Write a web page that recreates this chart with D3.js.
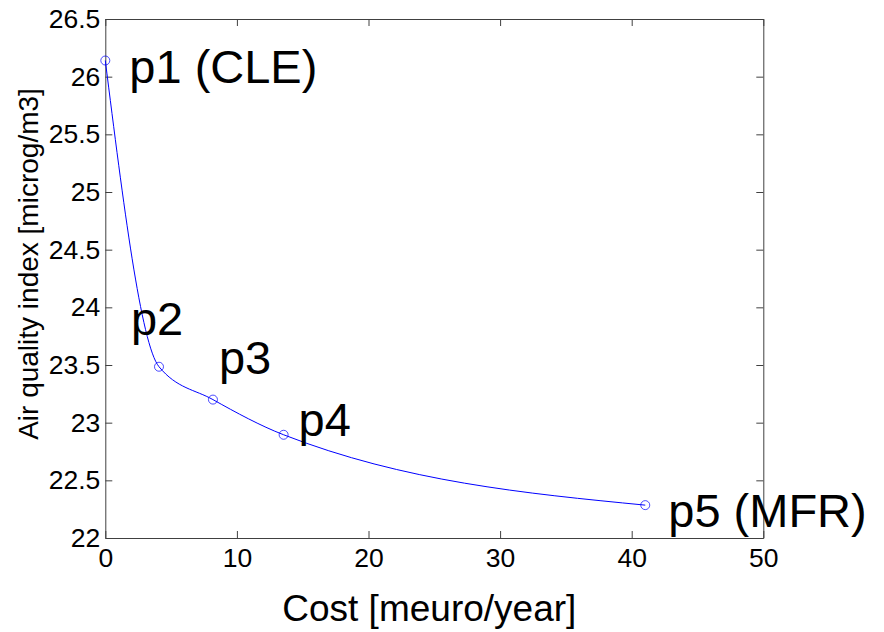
<!DOCTYPE html>
<html>
<head>
<meta charset="utf-8">
<script src="https://cdn.jsdelivr.net/npm/d3@7"></script>
<style>
  html, body { margin: 0; padding: 0; background: #fff; }
  svg { display: block; font-family: Arial, "Liberation Sans", sans-serif; }
</style>
</head>
<body>
<svg id="chart" width="884" height="632"></svg>
<script>
// ---- data ----
const costs = [0, 4.08, 8.18, 13.55, 41.03];          // meuro/year
const aqi   = [26.14, 23.485, 23.20, 22.895, 22.285];  // microg/m3
const pointNames = ["p1 (CLE)", "p2", "p3", "p4", "p5 (MFR)"];
const xTicks = [0, 10, 20, 30, 40, 50];
const yTicks = [22, 22.5, 23, 23.5, 24, 24.5, 25, 25.5, 26, 26.5];
const xTitle = "Cost [meuro/year]";
const yTitle = "Air quality index [microg/m3]";

// ---- layout ----
const L = 105.3, R = 763.3, T = 19, B = 538;
const labelOffsets = [[24, 22], [-28, -32], [6, -26], [15, 1], [23, 22]];
const axisColor = "#404040";
const lineColor = "#0000ff";

const svg = d3.select("#chart");
svg.append("rect").attr("width", 884).attr("height", 632).attr("fill", "#fff");

const x = d3.scaleLinear().domain([0, 50]).range([L, R]);
const y = d3.scaleLinear().domain([22, 26.5]).range([B, T]);

function styleAxis(g, showLabels) {
  g.selectAll("path.domain").attr("stroke", axisColor).attr("stroke-width", 1);
  g.selectAll(".tick line").attr("stroke", axisColor).attr("stroke-width", 1);
  g.selectAll(".tick text")
    .attr("fill", "#000")
    .style("font-size", "26.5px")
    .style("font-family", 'Arial, "Liberation Sans", sans-serif');
  if (!showLabels) g.selectAll(".tick text").remove();
}

// bottom axis
svg.append("g").attr("transform", `translate(0,${B})`)
  .call(d3.axisBottom(x).tickValues(xTicks).tickFormat(d3.format("d"))
        .tickSizeInner(-7).tickSizeOuter(0).tickPadding(10))
  .call(g => styleAxis(g, true));
// top axis (mirror)
svg.append("g").attr("transform", `translate(0,${T})`)
  .call(d3.axisTop(x).tickValues(xTicks).tickSizeInner(-7).tickSizeOuter(0))
  .call(g => styleAxis(g, false));
// left axis
svg.append("g").attr("transform", `translate(${L},0)`)
  .call(d3.axisLeft(y).tickValues(yTicks).tickFormat(d => String(d))
        .tickSizeInner(-7).tickSizeOuter(0).tickPadding(5))
  .call(g => styleAxis(g, true));
// right axis (mirror)
svg.append("g").attr("transform", `translate(${R},0)`)
  .call(d3.axisRight(y).tickValues(yTicks).tickSizeInner(-7).tickSizeOuter(0))
  .call(g => styleAxis(g, false));

// curve
const pts = costs.map((c, i) => [c, aqi[i]]);
const line = d3.line().x(d => x(d[0])).y(d => y(d[1])).curve(d3.curveMonotoneX);
svg.append("path").datum(pts)
  .attr("d", line)
  .attr("fill", "none")
  .attr("stroke", lineColor)
  .attr("stroke-width", 1);

// markers
svg.append("g").selectAll("circle").data(pts).join("circle")
  .attr("cx", d => x(d[0])).attr("cy", d => y(d[1]))
  .attr("r", 4.5)
  .attr("fill", "none")
  .attr("stroke", lineColor)
  .attr("stroke-opacity", 0.7)
  .attr("stroke-width", 1);

// point labels
svg.append("g").selectAll("text").data(pts).join("text")
  .attr("x", (d, i) => x(d[0]) + labelOffsets[i][0])
  .attr("y", (d, i) => y(d[1]) + labelOffsets[i][1])
  .attr("fill", "#000")
  .style("font-size", "47px")
  .text((d, i) => pointNames[i]);

// axis titles
svg.append("text")
  .attr("x", (L + R) / 2 - 5).attr("y", 621)
  .attr("text-anchor", "middle")
  .style("font-size", "37px")
  .text(xTitle);

svg.append("text")
  .attr("transform", `translate(38,264) rotate(-90)`)
  .attr("text-anchor", "middle")
  .style("font-size", "28px")
  .text(yTitle);
</script>
</body>
</html>
